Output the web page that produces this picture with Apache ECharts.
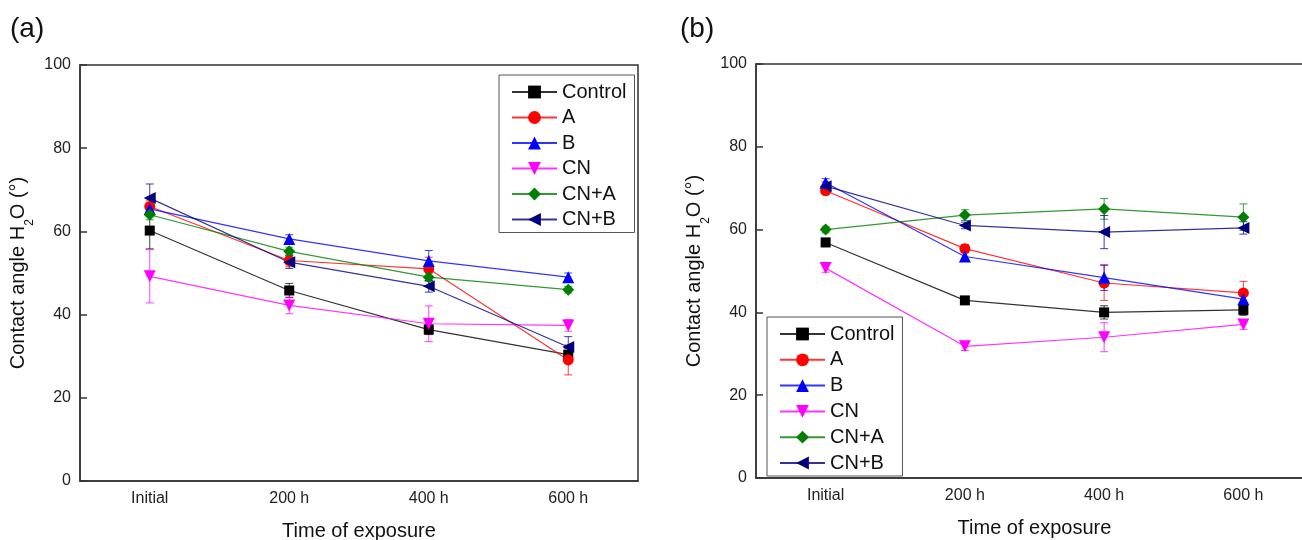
<!DOCTYPE html>
<html>
<head>
<meta charset="utf-8">
<script src="https://cdn.jsdelivr.net/npm/echarts@6/dist/echarts.min.js"></script>
<style>
  html, body { margin: 0; padding: 0; background: #fff; }
  #main { width: 1302px; height: 540px; }
</style>
</head>
<body>
<div id="main"></div>
<script>
// x categories
var timeLabels = ['Initial', '200 h', '400 h', '600 h'];
var seriesNames = ['Control', 'A', 'B', 'CN', 'CN+A', 'CN+B'];

// panel (a) values and error bars
var aControl = [60.2, 45.8, 36.4, 30.4];
var aA = [66.0, 53.0, 51.0, 29.1];
var aB = [65.4, 58.2, 52.9, 49.0];
var aCN = [49.2, 42.2, 37.8, 37.4];
var aCNA = [64.0, 55.2, 49.0, 46.0];
var aCNB = [68.0, 52.6, 46.8, 32.2];

var aControlErr = [4.4, 1.7, 1.2, 1.5];
var aAErr = [1.5, 1.5, 2.8, 3.6];
var aBErr = [1.0, 1.0, 2.5, 1.0];
var aCNErr = [6.4, 2.0, 4.3, 1.4];
var aCNAErr = [1.2, 1.0, 1.0, 0.8];
var aCNBErr = [3.4, 1.5, 1.4, 2.5];

// panel (b) values and error bars
var bControl = [56.9, 42.9, 40.0, 40.6];
var bA = [69.4, 55.4, 47.1, 44.7];
var bB = [71.3, 53.5, 48.4, 43.2];
var bCN = [50.7, 31.8, 34.0, 37.1];
var bCNA = [60.0, 63.5, 65.0, 63.0];
var bCNB = [70.5, 61.0, 59.4, 60.4];

var bControlErr = [1.0, 0.8, 1.6, 1.3];
var bAErr = [1.0, 1.0, 4.2, 2.8];
var bBErr = [1.0, 1.0, 3.1, 1.0];
var bCNErr = [1.0, 1.0, 3.5, 1.2];
var bCNAErr = [0.8, 1.3, 2.5, 3.2];
var bCNBErr = [1.0, 0.8, 4.0, 1.5];

var yTicks = [0, 20, 40, 60, 80, 100];

var colors = ['#000000', '#ff0000', '#0000ff', '#ff00ff', '#008000', '#000080'];
var symbols = ['rect', 'circle', 'triangle', 'triangle', 'diamond', 'triangle'];
var rotates = [0, 0, 0, 180, 0, 90];
var sizes = [10, 11, 12, 12, 12, 12];

var fontFam = '"Liberation Sans", Arial, sans-serif';

function lineSeries(idx, data, axis) {
    return {
        name: seriesNames[idx],
        type: 'line',
        xAxisIndex: axis,
        yAxisIndex: axis,
        data: data,
        color: colors[idx],
        symbol: symbols[idx],
        symbolRotate: rotates[idx],
        symbolSize: sizes[idx],
        showAllSymbol: true,
        lineStyle: { width: 1.2, opacity: 0.8 },
        itemStyle: { color: colors[idx] },
        z: 3
    };
}

function errSeries(idx, data, errs, axis) {
    var col = colors[idx];
    return {
        name: seriesNames[idx] + ' err',
        type: 'custom',
        xAxisIndex: axis,
        yAxisIndex: axis,
        silent: true,
        z: 2,
        data: data.map(function (v, i) { return [i, v - errs[i], v + errs[i]]; }),
        encode: { x: 0, y: [1, 2] },
        renderItem: function (params, api) {
            var lo = api.coord([api.value(0), api.value(1)]);
            var hi = api.coord([api.value(0), api.value(2)]);
            var w = 4;
            var st = { stroke: col, lineWidth: 1, opacity: 0.75 };
            return {
                type: 'group',
                children: [
                    { type: 'line', shape: { x1: lo[0], y1: lo[1], x2: hi[0], y2: hi[1] }, style: st },
                    { type: 'line', shape: { x1: lo[0] - w, y1: lo[1], x2: lo[0] + w, y2: lo[1] }, style: st },
                    { type: 'line', shape: { x1: hi[0] - w, y1: hi[1], x2: hi[0] + w, y2: hi[1] }, style: st }
                ]
            };
        }
    };
}

function xAxisFor(idx) {
    return {
        type: 'category',
        gridIndex: idx,
        data: timeLabels,
        boundaryGap: true,
        name: 'Time of exposure',
        nameLocation: 'middle',
        nameGap: 40,
        nameTextStyle: { fontSize: 20, color: '#111', fontFamily: fontFam },
        axisLine: { lineStyle: { color: '#333', width: 1.5 } },
        axisTick: { inside: true, length: 7, alignWithLabel: true, lineStyle: { color: '#333', width: 1.5 } },
        axisLabel: { fontSize: 16, color: '#222', margin: 10, fontFamily: fontFam, interval: 0 },
        splitLine: { show: false }
    };
}

function yAxisFor(idx) {
    return {
        type: 'value',
        gridIndex: idx,
        min: yTicks[0],
        max: yTicks[yTicks.length - 1],
        interval: 20,
        name: 'Contact angle H{sub|2}O (°)',
        nameLocation: 'middle',
        nameGap: 52,
        nameTextStyle: {
            fontSize: 20, color: '#111', fontFamily: fontFam,
            rich: {
                sub: { fontSize: 12, verticalAlign: 'bottom', padding: [0, 0, -8, 0], color: '#111', fontFamily: fontFam }
            }
        },
        axisLine: { show: true, lineStyle: { color: '#333', width: 1.5 } },
        axisTick: { show: true, inside: true, length: 7, lineStyle: { color: '#333', width: 1.5 } },
        axisLabel: { fontSize: 16, color: '#222', margin: 9, fontFamily: fontFam },
        splitLine: { show: false }
    };
}

function legendFor(left, top, gap) {
    return {
        data: seriesNames,
        orient: 'vertical',
        left: left,
        top: top,
        itemWidth: 45,
        itemHeight: 16,
        itemGap: gap,
        padding: [7, 8, 3, 12],
        borderColor: '#555',
        borderWidth: 1,
        backgroundColor: '#fff',
        textStyle: { fontSize: 20, color: '#111', fontFamily: fontFam, lineHeight: 20 },
        selectedMode: false
    };
}

var series = [];
var aSets = [aControl, aA, aB, aCN, aCNA, aCNB];
var aErrs = [aControlErr, aAErr, aBErr, aCNErr, aCNAErr, aCNBErr];
var bSets = [bControl, bA, bB, bCN, bCNA, bCNB];
var bErrs = [bControlErr, bAErr, bBErr, bCNErr, bCNAErr, bCNBErr];
for (var i = 0; i < seriesNames.length; i++) {
    series.push(errSeries(i, aSets[i], aErrs[i], 0));
    series.push(errSeries(i, bSets[i], bErrs[i], 1));
}
for (var j = 0; j < seriesNames.length; j++) {
    series.push(lineSeries(j, aSets[j], 0));
    series.push(lineSeries(j, bSets[j], 1));
}

var chart = echarts.init(document.getElementById('main'));
var option = {
    animation: false,
    backgroundColor: '#fff',
    title: [
        { text: '(a)', left: 5, top: 10, textStyle: { fontSize: 28, fontWeight: 'normal', color: '#111', fontFamily: fontFam } },
        { text: '(b)', left: 675, top: 10, textStyle: { fontSize: 28, fontWeight: 'normal', color: '#111', fontFamily: fontFam } }
    ],
    grid: [
        { left: 80, top: 65, width: 558, height: 416, outerBoundsMode: 'none', containLabel: false,
          show: true, borderColor: '#333', borderWidth: 1.5, backgroundColor: 'transparent' },
        { left: 756, top: 64, width: 557, height: 414, outerBoundsMode: 'none', containLabel: false,
          show: true, borderColor: '#333', borderWidth: 1.5, backgroundColor: 'transparent' }
    ],
    legend: [
        legendFor(499, 75, 5.5),
        legendFor(767, 317, 5.8)
    ],
    xAxis: [xAxisFor(0), xAxisFor(1)],
    yAxis: [yAxisFor(0), yAxisFor(1)],
    series: series
};
chart.setOption(option);
window.addEventListener('resize', chart.resize);
</script>
</body>
</html>
